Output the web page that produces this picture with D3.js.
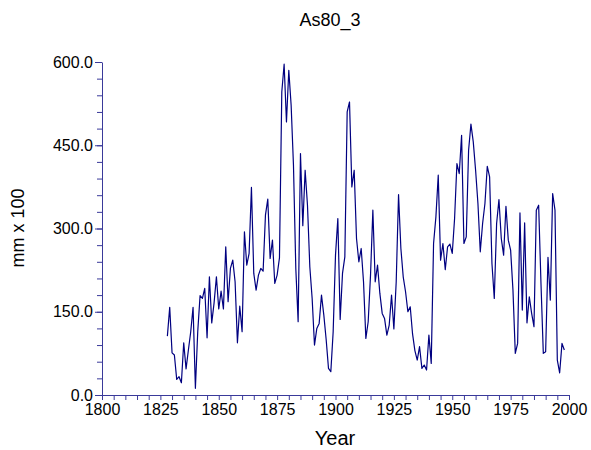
<!DOCTYPE html>
<html>
<head>
<meta charset="utf-8">
<script src="https://cdn.jsdelivr.net/npm/d3@7"></script>
<style>
  body { margin: 0; background: #fff; }
  text { font-family: "Liberation Sans", Arial, sans-serif; fill: #000; }
</style>
</head>
<body>
<div id="chart"></div>
<script>
// annual values, 1828-1998 (mm x 100)
const startYear = 1828;
const values = [
  106, 158, 76, 72, 28, 33, 22, 94, 47, 81,
  114, 158, 12, 114, 179, 174, 192, 103, 213, 130,
  166, 213, 155, 187, 155, 267, 168, 228, 243, 204,
  94, 160, 114, 294, 234, 255, 374, 219, 189, 216,
  228, 223, 324, 353, 246, 279, 201, 216, 247, 546,
  596, 492, 585, 522, 414, 228, 132, 435, 305, 405,
  342, 231, 174, 90, 120, 129, 180, 144, 100, 48,
  42, 114, 252, 318, 136, 219, 249, 510, 528, 375,
  405, 282, 240, 264, 204, 102, 132, 216, 333, 204,
  234, 183, 147, 138, 108, 126, 180, 119, 204, 361,
  264, 213, 186, 150, 159, 110, 80, 63, 87, 48,
  54, 45, 108, 57, 273, 321, 396, 243, 273, 226,
  267, 272, 255, 318, 417, 399, 468, 273, 285, 441,
  488, 456, 405, 345, 258, 309, 345, 412, 393, 237,
  174, 309, 352, 282, 252, 340, 279, 261, 189, 75,
  93, 328, 153, 310, 130, 177, 147, 123, 333, 342,
  201, 75, 78, 248, 171, 363, 333, 63, 40, 93,
  81
];
const years = values.map((v, i) => startYear + i);
const xTicks = d3.range(1800, 2001, 25);
const yTicks = [0, 150, 300, 450, 600];

const axisColor = "#3a3a9a";
const lineColor = "#000080";

const svg = d3.select("#chart").append("svg")
  .attr("width", 591)
  .attr("height", 450);

const x = d3.scaleLinear().domain([1800, 2000]).range([102, 569]);
const y = d3.scaleLinear().domain([0, 600]).range([395, 62]);

// x axis: minor ticks every 5 years, labels every 25
const xAxis = svg.append("g")
  .attr("transform", "translate(0,395)")
  .call(d3.axisBottom(x)
    .tickValues(d3.range(1800, 2001, 5))
    .tickSize(5)
    .tickSizeOuter(0)
    .tickPadding(4)
    .tickFormat(d => xTicks.includes(d) ? d : ""));
xAxis.select(".domain").attr("stroke", axisColor);
xAxis.selectAll(".tick line").attr("stroke", axisColor);
xAxis.selectAll(".tick text").style("font-size", "16px");

// y axis: minor ticks every 30, labels every 150
const yMinor = svg.append("g")
  .attr("transform", "translate(102,0)")
  .call(d3.axisLeft(y).tickValues(d3.range(0, 601, 30)).tickSize(5).tickSizeOuter(0).tickFormat(""));
yMinor.select(".domain").attr("stroke", axisColor);
yMinor.selectAll(".tick line").attr("stroke", axisColor);

const yAxis = svg.append("g")
  .attr("transform", "translate(102,0)")
  .call(d3.axisLeft(y).tickValues(yTicks).tickSize(7).tickSizeOuter(0).tickPadding(2)
    .tickFormat(d3.format(".1f")));
yAxis.select(".domain").remove();
yAxis.selectAll(".tick line").attr("stroke", axisColor);
yAxis.selectAll(".tick text").style("font-size", "16px");

const line = d3.line()
  .x((d, i) => x(years[i]))
  .y(d => y(d));

svg.append("path")
  .datum(values)
  .attr("fill", "none")
  .attr("stroke", lineColor)
  .attr("stroke-width", 1.2)
  .attr("stroke-linejoin", "round")
  .attr("d", line);

svg.append("text")
  .attr("x", 330)
  .attr("y", 26)
  .attr("text-anchor", "middle")
  .style("font-size", "18px")
  .text("As80_3");

svg.append("text")
  .attr("x", 335)
  .attr("y", 445)
  .attr("text-anchor", "middle")
  .style("font-size", "20px")
  .text("Year");

svg.append("text")
  .attr("transform", "translate(24,228) rotate(-90)")
  .attr("text-anchor", "middle")
  .style("font-size", "18px")
  .text("mm x 100");
</script>
</body>
</html>
